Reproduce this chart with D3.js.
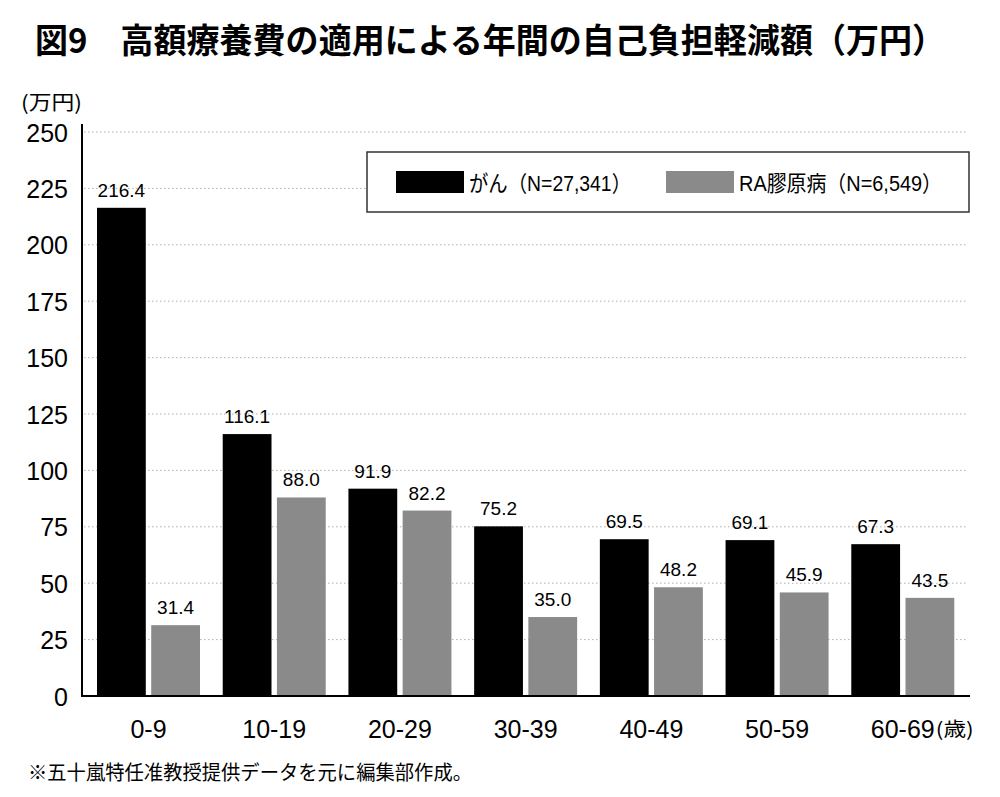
<!DOCTYPE html>
<html>
<head>
<meta charset="utf-8">
<script src="https://cdn.jsdelivr.net/npm/d3@7"></script>
<style>
  body { margin: 0; background: #fff; }
  svg { display: block; font-family: "Liberation Sans", "Noto Sans CJK JP", sans-serif; }
</style>
</head>
<body>
<svg id="chart" width="1000" height="797"></svg>
<script>
const ageGroups = ["0-9", "10-19", "20-29", "30-39", "40-49", "50-59", "60-69"];
const seriesNames = ["がん（N=27,341）", "RA膠原病（N=6,549）"];
const cancerValues = [216.4, 116.1, 91.9, 75.2, 69.5, 69.1, 67.3];
const raValues = [31.4, 88.0, 82.2, 35.0, 48.2, 45.9, 43.5];
const yTicks = [0, 25, 50, 75, 100, 125, 150, 175, 200, 225, 250];

const COLORS = ["#000000", "#8a8a8a"];
const SVG = d3.select("#chart");

const rows = ageGroups.map((g, i) => ({
  group: g,
  values: [
    { key: seriesNames[0], idx: 0, value: cancerValues[i] },
    { key: seriesNames[1], idx: 1, value: raValues[i] },
  ],
}));

// scales
const x0 = d3.scaleBand().domain(ageGroups).range([84, 964]);
const x1 = d3.scaleBand().domain(seriesNames).range([13, 116]).paddingInner(0.1);
const y = d3.scaleLinear().domain([0, 250]).range([696, 132]);

// title
SVG.append("text")
  .attr("x", 35)
  .attr("y", 53)
  .attr("font-family", "Noto Sans CJK JP")
  .attr("font-weight", "bold")
  .attr("font-size", 34)
  .attr("textLength", 910)
  .attr("lengthAdjust", "spacingAndGlyphs")
  .text("図9　高額療養費の適用による年間の自己負担軽減額（万円）");

// unit label
SVG.append("text")
  .attr("x", 21)
  .attr("y", 110)
  .attr("font-family", "Noto Sans CJK JP")
  .attr("font-size", 20)
  .attr("textLength", 61)
  .attr("lengthAdjust", "spacingAndGlyphs")
  .text("(万円)");

// gridlines
SVG.append("g")
  .attr("class", "grid")
  .selectAll("line")
  .data(yTicks.filter((d) => d > 0))
  .join("line")
  .attr("x1", 84)
  .attr("x2", 968)
  .attr("y1", (d) => y(d))
  .attr("y2", (d) => y(d))
  .attr("stroke", "#b0b0b0")
  .attr("stroke-width", 1)
  .attr("stroke-dasharray", "1.5,2.5");

// y axis labels
const yAxis = SVG.append("g")
  .attr("transform", "translate(82,0)")
  .call(d3.axisLeft(y).tickValues(yTicks).tickSize(0).tickPadding(14));
yAxis.select(".domain").remove();
yAxis.selectAll("text")
  .attr("font-family", "Liberation Sans")
  .attr("font-size", 25)
  .attr("fill", "#000")
  .attr("dy", "0.36em");

// bars
const groups = SVG.append("g")
  .selectAll("g")
  .data(rows)
  .join("g")
  .attr("transform", (d) => "translate(" + x0(d.group) + ",0)");

groups.selectAll("rect")
  .data((d) => d.values)
  .join("rect")
  .attr("x", (d) => x1(d.key))
  .attr("y", (d) => y(d.value))
  .attr("width", x1.bandwidth())
  .attr("height", (d) => y(0) - y(d.value))
  .attr("fill", (d) => COLORS[d.idx]);

groups.selectAll("text.val")
  .data((d) => d.values)
  .join("text")
  .attr("class", "val")
  .attr("x", (d) => x1(d.key) + x1.bandwidth() / 2)
  .attr("y", (d) => y(d.value) - 11)
  .attr("text-anchor", "middle")
  .attr("font-size", 19)
  .text((d) => d.value.toFixed(1));

// axis lines
SVG.append("line")
  .attr("x1", 82).attr("x2", 82)
  .attr("y1", 124).attr("y2", 697)
  .attr("stroke", "#000").attr("stroke-width", 2);
SVG.append("line")
  .attr("x1", 81).attr("x2", 970)
  .attr("y1", y(0)).attr("y2", y(0))
  .attr("stroke", "#000").attr("stroke-width", 2);

// x labels
const xLabels = SVG.append("g")
  .selectAll("text")
  .data(ageGroups)
  .join("text")
  .attr("x", (d) => x0(d) + 64.5)
  .attr("y", 738)
  .attr("text-anchor", "middle")
  .attr("font-size", 25)
  .text((d) => d);

const lastNode = xLabels.nodes()[ageGroups.length - 1];
const lastWidth = lastNode.getComputedTextLength();
SVG.append("text")
  .attr("x", x0(ageGroups[ageGroups.length - 1]) + 64.5 + lastWidth / 2 + 1)
  .attr("y", 736)
  .attr("font-family", "Noto Sans CJK JP")
  .attr("font-size", 19)
  .attr("textLength", 38)
  .attr("lengthAdjust", "spacingAndGlyphs")
  .text("(歳)");

// legend
const legend = SVG.append("g");
legend.append("rect")
  .attr("x", 367).attr("y", 152)
  .attr("width", 602).attr("height", 60)
  .attr("fill", "#fff")
  .attr("stroke", "#333")
  .attr("stroke-width", 1.5);

const legendX = [396, 666];
const legendTextLen = [162, 203];
seriesNames.forEach((name, i) => {
  legend.append("rect")
    .attr("x", legendX[i]).attr("y", 171)
    .attr("width", 68).attr("height", 22)
    .attr("fill", COLORS[i]);
  legend.append("text")
    .attr("x", legendX[i] + 73)
    .attr("y", 191)
    .attr("font-size", 22)
    .attr("textLength", legendTextLen[i])
    .attr("lengthAdjust", "spacingAndGlyphs")
    .text(name);
});

// footnote
SVG.append("text")
  .attr("x", 28)
  .attr("y", 780)
  .attr("font-family", "Noto Sans CJK JP")
  .attr("font-size", 20)
  .attr("textLength", 444)
  .attr("lengthAdjust", "spacingAndGlyphs")
  .text("※五十嵐特任准教授提供データを元に編集部作成。");
</script>
</body>
</html>
